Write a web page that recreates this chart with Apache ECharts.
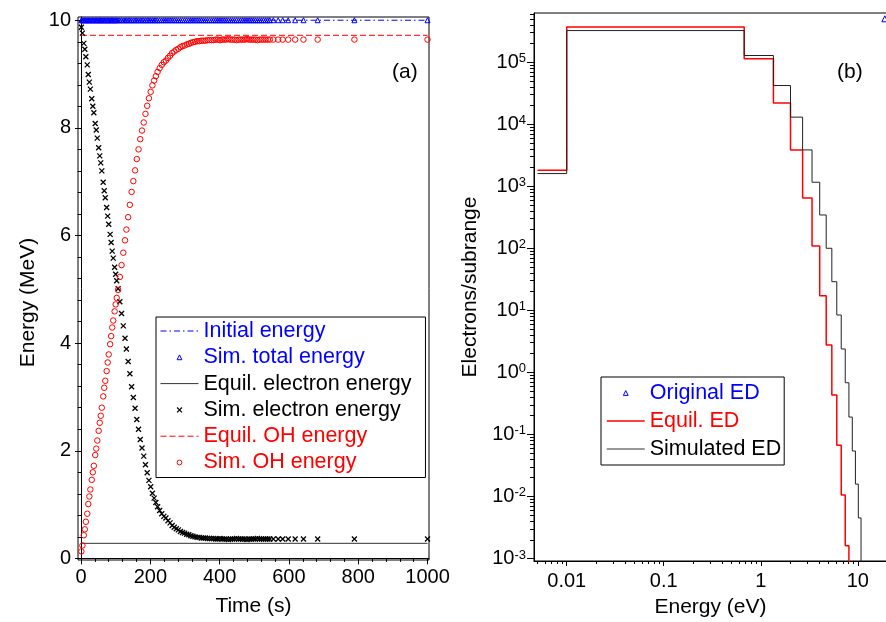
<!DOCTYPE html>
<html>
<head>
<meta charset="utf-8">
<script src="https://cdn.jsdelivr.net/npm/echarts@6/dist/echarts.min.js"></script>
<style>
html, body { margin: 0; padding: 0; background: #fff; }
#chart { width: 886px; height: 622px; }
</style>
</head>
<body>
<div id="chart"></div>
<script>
// ---------- Panel (a): energy partition versus time ----------
const timeS = [
  1, 4, 8, 11, 14, 18, 21, 24, 27, 31, 34, 37, 41, 44, 47, 51, 54, 57, 60, 64, 67, 70, 74, 77, 80, 84, 87, 90, 93, 97, 100, 103, 107,
  112, 117, 122, 127, 131, 136, 141, 146, 151, 156, 161, 166, 171, 176, 181, 186, 191, 196, 201, 206, 211, 216, 221,
  227, 233, 239, 245, 251, 257, 263, 269, 275, 281, 287, 293, 299, 305, 311, 317, 323, 329, 335, 341, 347, 353, 359, 365, 371, 377, 383,
  389, 395, 401, 407, 413, 419, 425, 431, 437, 443, 449, 455, 461, 467, 473, 479, 485, 491, 497, 503, 509, 515, 521, 527, 533, 539, 545,
  555, 569, 582, 598, 618, 642, 683, 789, 1000
];
const simElectronE = [
  9.87, 9.76, 9.57, 9.46, 9.32, 9.17, 8.99, 8.85, 8.72, 8.54, 8.40, 8.28, 8.08, 7.96, 7.81, 7.63, 7.48, 7.35, 7.20, 6.99, 6.83, 6.70, 6.52, 6.36, 6.21, 6.02, 5.87, 5.71, 5.58, 5.41, 5.28, 5.16, 5.01,
  4.77, 4.55, 4.32, 4.09, 3.89, 3.66, 3.43, 3.19, 2.99, 2.79, 2.58, 2.40, 2.21, 2.05, 1.90, 1.74, 1.59, 1.45, 1.33, 1.21, 1.12, 1.04, 0.96,
  0.89, 0.83, 0.78, 0.75, 0.70, 0.66, 0.61, 0.58, 0.55, 0.53, 0.50, 0.48, 0.47, 0.45, 0.44, 0.42, 0.41, 0.40, 0.39, 0.39, 0.38, 0.38, 0.38, 0.37, 0.37, 0.37, 0.37,
  0.36, 0.36, 0.37, 0.36, 0.36, 0.36, 0.35, 0.36, 0.36, 0.36, 0.37, 0.36, 0.36, 0.36, 0.36, 0.35, 0.36, 0.36, 0.36, 0.36, 0.37, 0.36, 0.36, 0.36, 0.36, 0.36, 0.36,
  0.36, 0.36, 0.36, 0.36, 0.36, 0.36, 0.36, 0.36, 0.36
];
const simOHE = [
  0.13, 0.24, 0.43, 0.54, 0.68, 0.83, 1.01, 1.15, 1.28, 1.46, 1.60, 1.72, 1.92, 2.04, 2.19, 2.37, 2.52, 2.65, 2.80, 3.01, 3.17, 3.30, 3.48, 3.64, 3.79, 3.98, 4.13, 4.29, 4.42, 4.59, 4.72, 4.84, 4.99,
  5.23, 5.45, 5.68, 5.91, 6.11, 6.34, 6.57, 6.81, 7.01, 7.21, 7.42, 7.60, 7.79, 7.95, 8.10, 8.26, 8.41, 8.55, 8.67, 8.79, 8.88, 8.96, 9.04,
  9.11, 9.17, 9.22, 9.25, 9.30, 9.34, 9.39, 9.42, 9.45, 9.47, 9.50, 9.52, 9.53, 9.55, 9.56, 9.58, 9.59, 9.60, 9.61, 9.61, 9.62, 9.62, 9.62, 9.63, 9.63, 9.63, 9.63,
  9.64, 9.64, 9.63, 9.64, 9.64, 9.64, 9.65, 9.64, 9.64, 9.64, 9.63, 9.64, 9.64, 9.64, 9.64, 9.65, 9.64, 9.64, 9.64, 9.64, 9.63, 9.64, 9.64, 9.64, 9.64, 9.64, 9.64,
  9.64, 9.64, 9.64, 9.64, 9.64, 9.64, 9.64, 9.64, 9.64
];
const simTotalE = [
  10, 10, 10, 10, 10, 10, 10, 10, 10, 10, 10, 10, 10, 10, 10, 10, 10, 10, 10, 10, 10, 10, 10, 10, 10, 10, 10, 10, 10, 10, 10, 10, 10,
  10, 10, 10, 10, 10, 10, 10, 10, 10, 10, 10, 10, 10, 10, 10, 10, 10, 10, 10, 10, 10, 10, 10,
  10, 10, 10, 10, 10, 10, 10, 10, 10, 10, 10, 10, 10, 10, 10, 10, 10, 10, 10, 10, 10, 10, 10, 10, 10, 10, 10,
  10, 10, 10, 10, 10, 10, 10, 10, 10, 10, 10, 10, 10, 10, 10, 10, 10, 10, 10, 10, 10, 10, 10, 10, 10, 10, 10,
  10, 10, 10, 10, 10, 10, 10, 10, 10
];
const initialEnergyLine = [[0, 10], [1000, 10]];
const equilElectronLine = [[0, 0.28], [1000, 0.28]];
const equilOHLine = [[0, 9.72], [1000, 9.72]];
const timeTicks = [0, 200, 400, 600, 800, 1000];
const energyTicks = [0, 2, 4, 6, 8, 10];

// ---------- Panel (b): electrons per energy subrange ----------
const binEdgesEV = [0.005, 0.01, 0.675, 1.35, 2.025, 2.7, 3.375, 4.05, 4.725, 5.4, 6.075, 6.75,
  7.425, 8.1, 8.775, 9.45, 10.125, 10.8];
const equilED = [1.81e3, 3.7e5, 1.13e5, 2.2e4, 3.85e3, 646, 109, 17.2, 2.75, 0.43, 0.067, 0.0105, 0.0016];
const simulatedED = [1.6e3, 3.23e5, 1.28e5, 4.2e4, 1.3e4, 3.85e3, 1.16e3, 344, 100, 28.9, 8.4, 2.38,
  0.68, 0.19, 0.054, 0.0158, 0.0045];
const originalED = [[19, 5.0e5]];
const decadeTicks = [1e-3, 1e-2, 1e-1, 1e0, 1e1, 1e2, 1e3, 1e4, 1e5];
const energyEVTicks = [0.01, 0.1, 1, 10];
const energyEVTickLabels = ['0.01', '0.1', '1', '10'];

const FONT = '"Liberation Sans", Arial, Helvetica, sans-serif';
const BLUE = '#0000ff', RED = '#ff0000', BLACK = '#000000';

// step outline: each bin drawn from its left edge, closing with a drop below the axis
function stepPoints(values) {
  const pts = values.map((v, i) => [binEdgesEV[i], v]);
  pts.push([binEdgesEV[values.length], 1e-7]);
  return pts;
}
function pairs(ys) { return timeS.map((t, i) => [t, ys[i]]); }

// minor tick positions
const timeMinor = [];
for (let v = 0; v <= 1000; v += 40) if (v % 200) timeMinor.push(v);
const energyMinor = [];
for (let k = 0; k <= 25; k++) if (k % 5) energyMinor.push(+(k * 0.4).toFixed(1));
function logMinor(lo, hi) {
  const out = [];
  for (let e = -4; e <= 6; e++) for (let m = 2; m <= 9; m++) {
    const v = m * Math.pow(10, e);
    if (v >= lo && v <= hi) out.push(v);
  }
  return out;
}
const X_LOG_MIN = 0.0046, X_LOG_MAX = 20, Y_LOG_MIN = 0.00091, Y_LOG_MAX = 6.2e5;

const axisTxt = { color: BLACK, fontSize: 20, fontFamily: FONT };
const nameTxt = { color: BLACK, fontSize: 21, fontFamily: FONT };
const blackLine = { lineStyle: { color: BLACK, width: 1 } };

const chart = echarts.init(document.getElementById('chart'), null, { renderer: 'canvas', width: 886, height: 622 });

const option = {
  animation: false,
  backgroundColor: '#ffffff',
  title: [
    { text: '(a)', left: 392, top: 62, padding: 0, textStyle: { fontSize: 21, fontWeight: 'normal', color: BLACK, fontFamily: FONT } },
    { text: '(b)', left: 837, top: 62, padding: 0, textStyle: { fontSize: 21, fontWeight: 'normal', color: BLACK, fontFamily: FONT } }
  ],
  grid: [
    { left: 78, top: 17, width: 351, height: 543, outerBoundsMode: 'none', containLabel: false,
      show: true, borderColor: BLACK, borderWidth: 1, backgroundColor: 'transparent' },
    { left: 534, top: 13, width: 353, height: 548, outerBoundsMode: 'none', containLabel: false,
      show: true, borderColor: BLACK, borderWidth: 1, backgroundColor: 'transparent' }
  ],
  xAxis: [
    {
      gridIndex: 0, type: 'value', min: -8.7, max: 1004.3, position: 'bottom',
      axisLine: blackLine, splitLine: { show: false },
      axisTick: { length: 6, customValues: timeTicks, lineStyle: { color: BLACK } },
      axisLabel: { customValues: timeTicks, margin: 7, formatter: v => String(v), ...axisTxt },
      name: 'Time (s)', nameLocation: 'middle', nameGap: 36, nameTextStyle: nameTxt
    },
    {
      gridIndex: 0, type: 'value', min: -8.7, max: 1004.3, position: 'bottom',
      axisLine: { show: false }, splitLine: { show: false }, axisLabel: { show: false },
      axisTick: { length: 3.5, customValues: timeMinor, lineStyle: { color: BLACK } }
    },
    {
      gridIndex: 1, type: 'log', logBase: 10, min: X_LOG_MIN, max: X_LOG_MAX, position: 'bottom',
      axisLine: blackLine, splitLine: { show: false },
      axisTick: { length: 5, customValues: energyEVTicks, lineStyle: { color: BLACK } },
      axisLabel: {
        customValues: energyEVTicks, margin: 10, ...axisTxt,
        formatter: v => {
          const i = energyEVTicks.findIndex(t => Math.abs(Math.log10(t) - Math.log10(v)) < 0.01);
          return i >= 0 ? energyEVTickLabels[i] : '';
        }
      },
      name: 'Energy (eV)', nameLocation: 'middle', nameGap: 36, nameTextStyle: nameTxt
    },
    {
      gridIndex: 1, type: 'log', logBase: 10, min: X_LOG_MIN, max: X_LOG_MAX, position: 'bottom',
      axisLine: { show: false }, splitLine: { show: false }, axisLabel: { show: false },
      axisTick: { length: 3, customValues: logMinor(X_LOG_MIN, X_LOG_MAX), lineStyle: { color: BLACK } }
    }
  ],
  yAxis: [
    {
      gridIndex: 0, type: 'value', min: -0.03, max: 10.06, position: 'left',
      axisLine: { show: true, ...blackLine }, splitLine: { show: false },
      axisTick: { length: 6, customValues: energyTicks, lineStyle: { color: BLACK } },
      axisLabel: { customValues: energyTicks, margin: 7, ...axisTxt },
      name: 'Energy (MeV)', nameLocation: 'middle', nameGap: 39,
      nameTextStyle: { ...nameTxt, padding: [0, 28, 0, 0] }
    },
    {
      gridIndex: 0, type: 'value', min: -0.03, max: 10.06, position: 'left',
      axisLine: { show: false }, splitLine: { show: false }, axisLabel: { show: false },
      axisTick: { length: 3.5, customValues: energyMinor, lineStyle: { color: BLACK } }
    },
    {
      gridIndex: 1, type: 'log', logBase: 10, min: Y_LOG_MIN, max: Y_LOG_MAX, position: 'left',
      axisLine: { show: true, ...blackLine }, splitLine: { show: false },
      axisTick: { length: 7, customValues: decadeTicks, lineStyle: { color: BLACK } },
      axisLabel: {
        customValues: decadeTicks, margin: 8, color: BLACK,
        formatter: v => '{b|10}{s|' + Math.round(Math.log10(v)) + '}',
        rich: {
          b: { fontSize: 20, fontFamily: FONT, color: BLACK },
          s: { fontSize: 13, fontFamily: FONT, color: BLACK, verticalAlign: 'top', lineHeight: 13 }
        }
      },
      name: 'Electrons/subrange', nameLocation: 'middle', nameGap: 53, nameTextStyle: nameTxt
    },
    {
      gridIndex: 1, type: 'log', logBase: 10, min: Y_LOG_MIN, max: Y_LOG_MAX, position: 'left',
      axisLine: { show: false }, splitLine: { show: false }, axisLabel: { show: false },
      axisTick: { length: 4, customValues: logMinor(Y_LOG_MIN, Y_LOG_MAX), lineStyle: { color: BLACK } }
    }
  ],
  legend: [
    {
      left: 156, top: 317, orient: 'vertical', selectedMode: false,
      padding: [3, 14, 4, 4], itemGap: 4.3, itemWidth: 38, itemHeight: 6,
      borderColor: BLACK, borderWidth: 1, backgroundColor: '#ffffff',
      textStyle: { fontSize: 21.5, fontFamily: FONT },
      data: [
        { name: 'Initial energy', textStyle: { color: BLUE },
          lineStyle: { color: BLUE, width: 1, type: [6, 3, 1.5, 3] }, itemStyle: { color: 'transparent', borderWidth: 0 } },
        { name: 'Sim. total energy', textStyle: { color: BLUE },
          lineStyle: { width: 0 }, itemStyle: { color: 'transparent', borderColor: BLUE, borderWidth: 1 } },
        { name: 'Equil. electron energy', textStyle: { color: BLACK },
          lineStyle: { color: '#333333', width: 1, type: 'solid' }, itemStyle: { color: 'transparent', borderWidth: 0 } },
        { name: 'Sim. electron energy', textStyle: { color: BLACK },
          lineStyle: { width: 0 }, itemStyle: { color: 'transparent', borderColor: BLACK, borderWidth: 1.2 } },
        { name: 'Equil. OH energy', textStyle: { color: RED },
          lineStyle: { color: RED, width: 1, type: [6, 3] }, itemStyle: { color: 'transparent', borderWidth: 0 } },
        { name: 'Sim. OH energy', textStyle: { color: RED },
          lineStyle: { width: 0 }, itemStyle: { color: 'transparent', borderColor: RED, borderWidth: 1 } }
      ]
    },
    {
      left: 601, top: 377, orient: 'vertical', selectedMode: false,
      padding: [5, 3, 5, 5], itemGap: 6, itemWidth: 38, itemHeight: 6,
      borderColor: BLACK, borderWidth: 1, backgroundColor: '#ffffff',
      textStyle: { fontSize: 21.5, fontFamily: FONT },
      data: [
        { name: 'Original ED', textStyle: { color: BLUE },
          lineStyle: { width: 0 }, itemStyle: { color: 'transparent', borderColor: BLUE, borderWidth: 1 } },
        { name: 'Equil. ED', textStyle: { color: RED },
          lineStyle: { color: RED, width: 1.5, type: 'solid' }, itemStyle: { color: 'transparent', borderWidth: 0 } },
        { name: 'Simulated ED', textStyle: { color: BLACK },
          lineStyle: { color: '#333333', width: 1, type: 'solid' }, itemStyle: { color: 'transparent', borderWidth: 0 } }
      ]
    }
  ],
  series: [
    // panel (a)
    { name: 'Initial energy', type: 'line', xAxisIndex: 0, yAxisIndex: 0, data: initialEnergyLine,
      symbol: 'none', itemStyle: { color: 'transparent' }, lineStyle: { color: BLUE, width: 1, type: [6, 3, 1.5, 3] }, z: 2 },
    { name: 'Equil. electron energy', type: 'line', xAxisIndex: 0, yAxisIndex: 0, data: equilElectronLine,
      symbol: 'none', itemStyle: { color: 'transparent' }, lineStyle: { color: '#333333', width: 1 }, z: 2 },
    { name: 'Equil. OH energy', type: 'line', xAxisIndex: 0, yAxisIndex: 0, data: equilOHLine,
      symbol: 'none', itemStyle: { color: 'transparent' }, lineStyle: { color: RED, width: 1, type: [6, 3] }, z: 2 },
    { name: 'Sim. total energy', type: 'line', xAxisIndex: 0, yAxisIndex: 0, data: pairs(simTotalE),
      symbol: 'triangle', symbolSize: 5, showAllSymbol: true, lineStyle: { width: 0 },
      itemStyle: { color: 'transparent', borderColor: BLUE, borderWidth: 1 }, z: 3 },
    { name: 'Sim. electron energy', type: 'line', xAxisIndex: 0, yAxisIndex: 0, data: pairs(simElectronE),
      symbol: 'path://M0,0L10,10M10,0L0,10', symbolSize: 5, showAllSymbol: true, lineStyle: { width: 0 },
      itemStyle: { color: 'transparent', borderColor: BLACK, borderWidth: 1.3 }, z: 3 },
    { name: 'Sim. OH energy', type: 'line', xAxisIndex: 0, yAxisIndex: 0, data: pairs(simOHE),
      symbol: 'circle', symbolSize: 5.5, showAllSymbol: true, lineStyle: { width: 0 },
      itemStyle: { color: 'transparent', borderColor: RED, borderWidth: 1 }, z: 3 },
    // panel (b)
    { name: 'Original ED', type: 'line', xAxisIndex: 2, yAxisIndex: 2, data: originalED,
      symbol: 'triangle', symbolSize: 6, lineStyle: { width: 0 },
      itemStyle: { color: 'transparent', borderColor: BLUE, borderWidth: 1 }, z: 3 },
    { name: 'Equil. ED', type: 'line', xAxisIndex: 2, yAxisIndex: 2, data: stepPoints(equilED), step: 'end',
      symbol: 'none', itemStyle: { color: 'transparent' }, lineStyle: { color: RED, width: 1.5 }, z: 2 },
    { name: 'Simulated ED', type: 'line', xAxisIndex: 2, yAxisIndex: 2, data: stepPoints(simulatedED), step: 'end',
      symbol: 'none', itemStyle: { color: 'transparent' }, lineStyle: { color: '#222222', width: 1 }, z: 2 }
  ]
};
chart.setOption(option);
</script>
</body>
</html>
